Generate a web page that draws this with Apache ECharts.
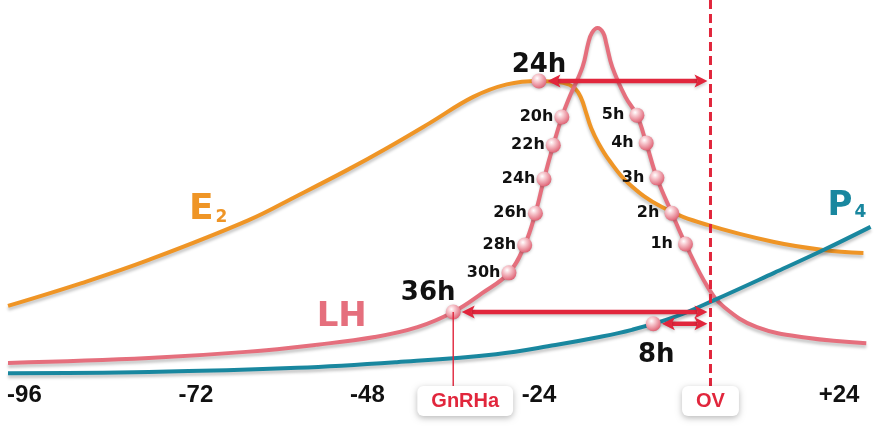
<!DOCTYPE html>
<html>
<head>
<meta charset="utf-8">
<script src="https://cdn.jsdelivr.net/npm/echarts@6/dist/echarts.min.js"></script>
<style>
  html, body { margin: 0; padding: 0; background: #ffffff; }
  #chart { width: 882px; height: 426px; }
</style>
</head>
<body>
<div id="chart"></div>
<script>
// Time axis: hours relative to ovulation
const tickValues = [-96, -72, -48, -24, 24];
const tickLabels = ['-96', '-72', '-48', '-24', '+24'];

// Hormone curves as [hour, relative level]
const e2Curve = [[-98.3, 19.5], [-88, 25.5], [-78.6, 31.6], [-64.7, 42], [-57.8, 48.5], [-50.8, 55.3],
  [-45.3, 61], [-39.3, 67.6], [-33.2, 74.5], [-28.5, 77.8], [-24, 78.7], [-20.6, 78.2], [-19.0, 76.8],
  [-18.1, 74.2], [-17.4, 70.3], [-16.7, 66.3], [-15.7, 62.4], [-14.2, 57.9], [-11.5, 51.8], [-6.8, 45.5],
  [-0.4, 40.8], [8.9, 36.3], [15.8, 34.2], [21.4, 33.4]];
const lhCurve = [[-98.3, 4.5], [-78.6, 5.8], [-65, 7.4], [-55, 9.3], [-47, 11.3], [-41, 13.9], [-36, 17.9],
  [-32, 22.8], [-28.2, 28.2], [-26.0, 35.5], [-24.5, 43.9], [-23.3, 52.9], [-22.0, 61.8], [-20.8, 69.2],
  [-19.9, 73.7], [-17.9, 82.4], [-17.1, 88.7], [-16.6, 91.3], [-15.8, 92.6], [-15.0, 91.3], [-14.6, 88.7],
  [-13.75, 82.4], [-11.9, 74.5], [-10.3, 69.7], [-9.0, 62.4], [-7.5, 53.2], [-5.4, 43.9], [-3.5, 35.8],
  [-0.4, 24.5], [1.9, 19.2], [6.5, 13.9], [13.5, 11.1], [21.8, 9.7]];
const p4Curve = [[-98.3, 1.8], [-78.6, 2.1], [-57.8, 3.2], [-43.9, 4.7], [-30, 6.8], [-21.7, 9.2],
  [-16.1, 11.1], [-11, 13.2], [-5, 16.6], [0.6, 21.1], [8.9, 28.2], [15.8, 34.2], [22.4, 40.3]];

// Sampled points on the rising limb of the LH surge
const riseHours = [-28.2, -26.0, -24.5, -23.3, -22.0, -20.8];
const riseLevels = [28.2, 35.5, 43.9, 52.9, 61.8, 69.2];
const riseLabels = ['30h', '28h', '26h', '24h', '22h', '20h'];

// Sampled points on the falling limb
const fallHours = [-10.3, -9.0, -7.5, -5.4, -3.5];
const fallLevels = [69.7, 62.4, 53.2, 43.9, 35.8];
const fallLabels = ['5h', '4h', '3h', '2h', '1h'];

// Intervals measured up to ovulation
const spanLabels = ['24h', '36h', '8h'];
const spanStarts = [-24, -36, -8];
const spanLevels = [78.7, 17.9, 14.8];
const spanEnd = 0;

// Events marked on the time axis
const eventNames = ['GnRHa', 'OV'];
const eventHours = [-36, 0];
const eventAnchorLevels = [17.9, 100];

// ---- styling ----
const ORANGE = '#ef9526';
const PINK = '#e56f7d';
const TEAL = '#19879f';
const RED = '#e1263c';
const INK = '#111111';
const BOLD_FONT = "'DejaVu Sans', Verdana, sans-serif";
const AXIS_FONT = "'Liberation Sans', Arial, sans-serif";
const DOT_SIZE = 15;

const spanLabelOffset = { '24h': [0, -16], '36h': [-25, -19], '8h': [3, 31] };
const eventStyle = {
  GnRHa: { dash: null, width: 1.4, boxShift: 12 },
  OV: { dash: [9, 5], width: 3, boxShift: 0 }
};

const lineShadow = { shadowColor: 'rgba(0,0,0,0.22)', shadowBlur: 3, shadowOffsetY: 3 };

function curveSeries(name, data, color, markCoord, main, sub, mainSize, subSize) {
  return {
    name: name,
    type: 'line',
    data: data,
    smooth: 0.4,
    showSymbol: false,
    z: 2,
    lineStyle: Object.assign({ color: color, width: 4 }, lineShadow),
    markPoint: {
      symbol: 'circle',
      symbolSize: 1,
      silent: true,
      itemStyle: { color: 'rgba(0,0,0,0)' },
      label: {
        show: true,
        position: 'inside',
        formatter: '{m|' + main + '}' + (sub ? '{s|' + sub + '}' : ''),
        rich: {
          m: { fontFamily: BOLD_FONT, fontWeight: 'bold', fontSize: mainSize, color: color, verticalAlign: 'bottom' },
          s: { fontFamily: BOLD_FONT, fontWeight: 'bold', fontSize: subSize, color: color, verticalAlign: 'bottom', padding: [0, 0, 2, 2] }
        }
      },
      data: [{ coord: markCoord }]
    }
  };
}

const dotColor = new echarts.graphic.RadialGradient(0.38, 0.32, 0.7, [
  { offset: 0, color: '#ffffff' },
  { offset: 0.3, color: '#f8cdd3' },
  { offset: 1, color: '#df6274' }
]);

const hourLabel = { show: true, position: 'left', formatter: '{b}', color: INK, opacity: 1,
  fontFamily: BOLD_FONT, fontWeight: 'bold', fontSize: 16 };

const dots = [];
riseHours.forEach((h, i) => dots.push({
  value: [h, riseLevels[i]], name: riseLabels[i],
  label: Object.assign({ distance: 1 }, hourLabel)
}));
fallHours.forEach((h, i) => dots.push({
  value: [h, fallLevels[i]], name: fallLabels[i],
  label: Object.assign({ distance: 5 }, hourLabel)
}));
spanStarts.forEach((h, i) => dots.push({
  value: [h, spanLevels[i]], name: spanLabels[i], label: { show: false }
}));

function renderSpan(params, api) {
  const i = params.dataIndex;
  const start = api.coord([api.value(0), api.value(2)]);
  const end = api.coord([api.value(1), api.value(2)]);
  const y = start[1];
  const x1 = start[0] + DOT_SIZE / 2 + 1;
  const x2 = end[0] - 3;
  const head = 13, half = 6.5, notch = 3;
  const shadow = { shadowColor: 'rgba(0,0,0,0.2)', shadowBlur: 3, shadowOffsetY: 2 };
  const off = spanLabelOffset[spanLabels[i]];
  return {
    type: 'group',
    children: [
      { type: 'line', shape: { x1: x1 + head - notch, y1: y, x2: x2 - head + notch, y2: y },
        style: Object.assign({ stroke: RED, lineWidth: 4.5 }, shadow) },
      { type: 'polygon', shape: { points: [[x1, y], [x1 + head, y - half], [x1 + head - notch, y], [x1 + head, y + half]] },
        style: Object.assign({ fill: RED }, shadow) },
      { type: 'polygon', shape: { points: [[x2, y], [x2 - head, y - half], [x2 - head + notch, y], [x2 - head, y + half]] },
        style: Object.assign({ fill: RED }, shadow) },
      { type: 'text', x: start[0] + off[0], y: y + off[1],
        style: { text: spanLabels[i], fontFamily: BOLD_FONT, fontWeight: 'bold', fontSize: 26,
          fill: INK, align: 'center', verticalAlign: 'middle' } }
    ]
  };
}

function renderEvent(params, api) {
  const i = params.dataIndex;
  const st = eventStyle[eventNames[i]];
  const anchor = api.coord([api.value(0), api.value(1)]);
  const base = api.coord([api.value(0), 0]);
  const boxTop = base[1] + 6;
  return {
    type: 'group',
    children: [
      { type: 'line', shape: { x1: anchor[0], y1: anchor[1], x2: anchor[0], y2: boxTop },
        style: { stroke: RED, lineWidth: st.width, lineDash: st.dash } },
      { type: 'text', x: anchor[0] + st.boxShift, y: boxTop,
        style: { text: eventNames[i], fontFamily: AXIS_FONT, fontWeight: 'bold', fontSize: 20, lineHeight: 20,
          fill: RED, align: 'center', verticalAlign: 'top',
          backgroundColor: '#ffffff', padding: [5, 14, 5, 14], borderRadius: 6,
          shadowBlur: 6, shadowColor: 'rgba(0,0,0,0.28)', shadowOffsetY: 2 } }
    ]
  };
}

const chart = echarts.init(document.getElementById('chart'), null, { renderer: 'canvas' });
chart.setOption({
  animation: false,
  backgroundColor: '#ffffff',
  grid: { left: 3, right: -7, top: 0, bottom: 46 },
  xAxis: {
    type: 'value', min: -99, max: 24,
    axisLine: { show: false }, axisTick: { show: false }, splitLine: { show: false },
    axisLabel: {
      customValues: tickValues,
      margin: 3,
      fontFamily: AXIS_FONT, fontWeight: 'bold', fontSize: 24, color: INK,
      formatter: function (v) {
        const label = tickLabels[tickValues.indexOf(v)];
        return v === tickValues[tickValues.length - 1] ? '{end|' + label + '}' : label;
      },
      rich: {
        end: { fontFamily: AXIS_FONT, fontWeight: 'bold', fontSize: 24, color: INK, padding: [0, 86, 0, 0] }
      }
    }
  },
  yAxis: { type: 'value', min: 0, max: 100, show: false },
  series: [
    curveSeries('E2', e2Curve, ORANGE, [-70.3, 44.7], 'E', '2', 36, 17),
    curveSeries('LH', lhCurve, PINK, [-51.6, 16.5], 'LH', '', 34, 0),
    curveSeries('P4', p4Curve, TEAL, [19.1, 45.8], 'P', '4', 34, 17),
    {
      type: 'custom', z: 6, silent: true,
      data: eventHours.map((h, i) => [h, eventAnchorLevels[i]]),
      renderItem: renderEvent
    },
    {
      type: 'custom', z: 4, silent: true,
      data: spanStarts.map((s, i) => [s, spanEnd, spanLevels[i]]),
      renderItem: renderSpan
    },
    {
      type: 'scatter', z: 5, silent: true,
      symbol: 'circle', symbolSize: DOT_SIZE,
      itemStyle: { color: dotColor, opacity: 1, shadowColor: 'rgba(0,0,0,0.25)', shadowBlur: 3, shadowOffsetY: 1 },
      label: hourLabel,
      data: dots
    }
  ]
});
</script>
</body>
</html>
